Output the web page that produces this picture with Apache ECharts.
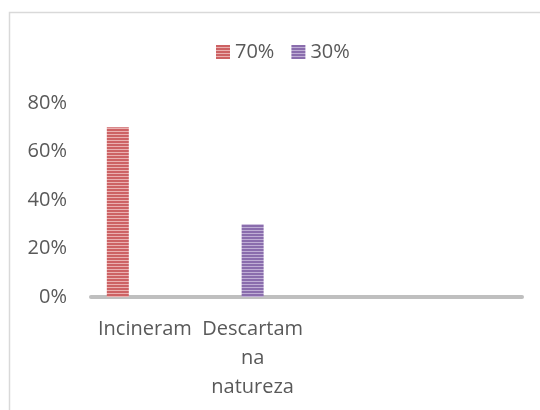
<!DOCTYPE html>
<html>
<head>
<meta charset="utf-8">
<script src="https://cdn.jsdelivr.net/npm/echarts@6/dist/echarts.min.js"></script>
<style>
  html, body { margin: 0; padding: 0; background: #fff; }
  #main { width: 540px; height: 410px; }
</style>
</head>
<body>
<div id="main"></div>
<script>
// categorias (as duas ultimas vazias, como no grafico original)
var categorias = ['Incineram', 'Descartam\nna\nnatureza', '', '']
var serie70 = [0.7, null, null, null]
var serie30 = [null, 0.3, null, null]
var vazia = [null, null, null, null]
var yTicks = [0, 0.2, 0.4, 0.6, 0.8]

// padrao de listras horizontais para as barras
function listras(escura, clara) {
  var c = document.createElement('canvas')
  c.width = 4
  c.height = 3
  var ctx = c.getContext('2d')
  ctx.fillStyle = escura
  ctx.fillRect(0, 0, 4, 3)
  ctx.fillStyle = clara
  ctx.fillRect(0, 2, 4, 1)
  return { image: c, repeat: 'repeat' }
}

var myChart = echarts.init(document.getElementById('main'))
var fonte = '"Open Sans", sans-serif'

var option = {
  animation: false,
  graphic: [
    {
      type: 'rect',
      shape: { x: 9.5, y: 12.5, width: 560, height: 420 },
      style: { fill: 'none', stroke: '#d9d9d9', lineWidth: 1.5 },
      silent: true
    }
  ],
  legend: {
    data: ['70%', '30%'],
    left: 216,
    top: 42,
    padding: 0,
    icon: 'rect',
    itemWidth: 14,
    itemHeight: 14,
    itemGap: 17,
    textStyle: { color: '#595959', fontSize: 20, fontFamily: fonte }
  },
  grid: { left: 91, right: 18, top: 103, bottom: 113 },
  xAxis: {
    type: 'category',
    data: categorias,
    axisLine: { lineStyle: { color: '#bfbfbf', width: 4 } },
    axisTick: { show: false },
    axisLabel: {
      interval: 0,
      margin: 18,
      color: '#595959',
      fontSize: 20,
      lineHeight: 29,
      fontFamily: fonte
    }
  },
  yAxis: {
    type: 'value',
    min: yTicks[0],
    max: yTicks[yTicks.length - 1],
    interval: 0.2,
    axisLine: { show: false },
    axisTick: { show: false },
    splitLine: { show: false },
    axisLabel: {
      margin: 24,
      color: '#595959',
      fontSize: 20,
      fontFamily: fonte,
      formatter: function (v) { return Math.round(v * 100) + '%' }
    }
  },
  series: [
    {
      name: '70%',
      type: 'bar',
      data: serie70,
      barWidth: 22,
      barGap: '23%',
      itemStyle: { color: listras('#cd6264', '#eab0b0') }
    },
    {
      name: '30%',
      type: 'bar',
      data: serie30,
      barWidth: 22,
      barGap: '23%',
      itemStyle: { color: listras('#8a6dad', '#bfaed5') }
    },
    {
      name: 'vazia',
      type: 'bar',
      data: vazia,
      barWidth: 22,
      barGap: '23%'
    }
  ]
}

myChart.setOption(option)
</script>
</body>
</html>
